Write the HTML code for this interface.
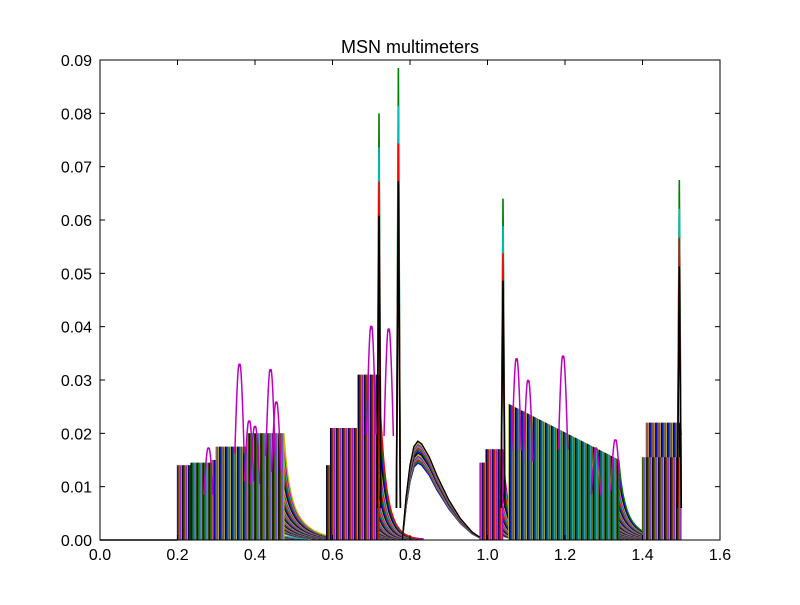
<!DOCTYPE html>
<html><head><meta charset="utf-8"><style>
body{margin:0;background:#fff}
svg text{font-family:"Liberation Sans",sans-serif;fill:#000}
</style></head><body>
<svg id="c" width="800" height="600" xmlns="http://www.w3.org/2000/svg">
<rect width="800" height="600" fill="#fff"/>
<g id="marks"></g>
<g id="axes"></g>
<text x="410" y="53" font-size="18" text-anchor="middle">MSN multimeters</text>
</svg>
<script>
const xTicks=[0.0,0.2,0.4,0.6,0.8,1.0,1.2,1.4,1.6];
const yTicks=[0.00,0.01,0.02,0.03,0.04,0.05,0.06,0.07,0.08,0.09];
const blockStart=[0.20,0.235,0.29,0.30,0.38,0.585,0.595,0.665,0.98,0.995,1.055,1.41,1.40];
const blockEnd  =[0.29,0.29,0.33,0.38,0.475,0.60,0.70,0.72,1.03,1.04,1.34,1.50,1.50];
const blockTop  =[0.014,0.0145,0.015,0.0175,0.020,0.014,0.021,0.031,0.0145,0.017,0.0255,0.022,0.0155];
const blockTopEnd=[0.014,0.0145,0.015,0.0175,0.020,0.014,0.021,0.031,0.0145,0.017,0.015,0.022,0.0155];
const blockTau  =[0.03,0.03,0.035,0.04,0.045,0.025,0.035,0.025,0.025,0.025,0.04,0.035,0.035];
const spikeX=[0.72,0.77,1.04,1.495];
const spikeY=[0.080,0.0885,0.064,0.0675];
const arcX=[0.78,0.79,0.80,0.81,0.82,0.83,0.85,0.87,0.90,0.93,0.96,0.98];
const arcY=[0.0,0.008,0.014,0.0175,0.0185,0.018,0.0155,0.012,0.0075,0.004,0.0015,0.0005];
const peakX=[0.28,0.36,0.385,0.40,0.44,0.455,0.70,0.745,1.075,1.105,1.195,1.28,1.33];
const peakY=[0.017,0.0325,0.022,0.021,0.0315,0.0255,0.0395,0.039,0.0335,0.0295,0.034,0.017,0.0185];
const cols=['#0000ff','#008000','#ff0000','#00bfbf','#bf00bf','#bfbf00','#000000'];
const X=v=>100+v*387.5, Y=v=>540-v*480/0.09;
const NS='http://www.w3.org/2000/svg';
const marks=document.getElementById('marks'), axes=document.getElementById('axes');
function mk(tag,at,parent){const e=document.createElementNS(NS,tag);for(const k in at)e.setAttribute(k,at[k]);parent.appendChild(e);return e;}
let ci=0;
blockStart.forEach((s,b)=>{
  const e=blockEnd[b];
  for(let t=s;t<=e+1e-9;t+=0.0022){
    const f=(t-s)/Math.max(e-s,1e-6);
    const top=blockTop[b]+(blockTopEnd[b]-blockTop[b])*f;
    let d='M'+X(t).toFixed(1)+','+Y(0).toFixed(1)+' L'+X(t).toFixed(1)+','+Y(top).toFixed(1);
    for(let u=t+0.002;u<t+blockTau[b]*4&&u<=1.5;u+=0.003){
      const dt=u-t;
      const v=top*(0.5*Math.exp(-dt/0.012)+0.5*Math.exp(-dt/blockTau[b]));
      d+=' L'+X(u).toFixed(1)+','+Y(v).toFixed(1);
    }
    const p=mk('path',{d:d,fill:'none',stroke:cols[ci++%7],'stroke-width':1.3},marks);
    
    
  }
});
for(let k=0;k<14;k++){
  const sc=0.78+k*0.017;
  let d='';arcX.forEach((x,i)=>{d+=(i?' L':'M')+X(x).toFixed(1)+','+Y(arcY[i]*sc).toFixed(1);});
  const p=mk('path',{d:d,fill:'none',stroke:cols[k%7],'stroke-width':1.4},marks);
  
  
}
spikeX.forEach((x,i)=>{
  for(let k=0;k<4;k++){
    const p=mk('path',{d:'M'+X(x-0.005)+','+Y(0.006)+' L'+X(x)+','+Y(spikeY[i]*(1-k*0.08))+' L'+X(x+0.005)+','+Y(0.006),fill:'none',stroke:['#008000','#00bfbf','#ff0000','#000000'][k],'stroke-width':1.6},marks);
    
    
  }
});
peakX.forEach((x,i)=>{
  const d='M'+X(x-0.012)+','+Y(peakY[i]*0.5)+' Q'+X(x-0.004)+','+Y(peakY[i]*1.1)+' '+X(x)+','+Y(peakY[i])+' Q'+X(x+0.004)+','+Y(peakY[i]*1.1)+' '+X(x+0.012)+','+Y(peakY[i]*0.5);
  const p=mk('path',{d:d,fill:'none',stroke:'#bf00bf','stroke-width':1.5},marks);
  
  
});
const base=mk('line',{x1:100,y1:540,x2:X(0.2),y2:540,stroke:'#000','stroke-width':1.5},marks);


const fr=mk('rect',{x:100,y:60,width:620,height:480,fill:'none',stroke:'#000','stroke-width':1},axes);


xTicks.forEach(v=>{
  mk('line',{x1:X(v),y1:540,x2:X(v),y2:535,stroke:'#000'},axes);
  mk('line',{x1:X(v),y1:60,x2:X(v),y2:65,stroke:'#000'},axes);
  const t=mk('text',{x:X(v),y:560,'font-size':16,'text-anchor':'middle'},axes);t.textContent=v.toFixed(1);
  
  
});
yTicks.forEach(v=>{
  mk('line',{x1:100,y1:Y(v),x2:105,y2:Y(v),stroke:'#000'},axes);
  mk('line',{x1:720,y1:Y(v),x2:715,y2:Y(v),stroke:'#000'},axes);
  const t=mk('text',{x:92,y:Y(v)+6,'font-size':16,'text-anchor':'end'},axes);t.textContent=v.toFixed(2);
  
  
});
</script>
</body></html>
